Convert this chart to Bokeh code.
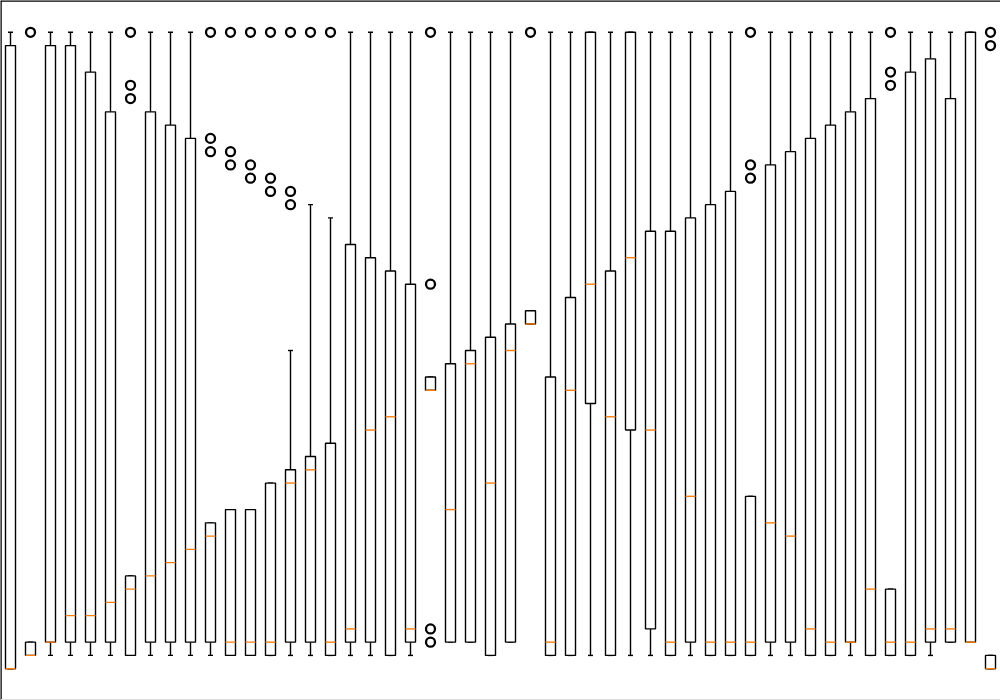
from bokeh.plotting import figure
from bokeh.models import Range1d, ColumnDataSource, Span
from bokeh.embed import file_html
from bokeh.resources import INLINE

# five-number summaries per box (1..50)
q1 =  [0, 1, 2, 2, 2, 2, 1, 2, 2, 2, 2, 1, 1, 1, 2, 2, 1, 2, 2, 1, 2, 21, 2, 2, 1,
       2, 26, 1, 1, 20, 1, 18, 3, 1, 2, 1, 1, 1, 2, 2, 1, 1, 2, 1, 1, 1, 2, 2, 2, 0]
med = [0, 1, 2, 4, 4, 5, 6, 7, 8, 9, 10, 2, 2, 2, 14, 15, 2, 3, 18, 19, 3, 21, 12, 23, 14,
       24, 26, 2, 21, 29, 19, 31, 18, 2, 13, 2, 2, 2, 11, 10, 3, 2, 2, 6, 2, 2, 3, 3, 2, 0]
q3 =  [47, 2, 47, 47, 45, 42, 7, 42, 41, 40, 11, 12, 12, 14, 15, 16, 17, 32, 31, 30, 29, 22, 23, 24, 25,
       26, 27, 22, 28, 48, 30, 48, 33, 33, 34, 35, 36, 13, 38, 39, 40, 41, 42, 43, 6, 45, 46, 43, 48, 1]
lo =  [0, 1, 1, 1, 1, 1, 1, 1, 1, 1, 1, 1, 1, 1, 1, 1, 1, 1, 1, 1, 1, 21, 2, 2, 1,
       2, 26, 1, 1, 1, 1, 1, 1, 1, 1, 1, 1, 1, 1, 1, 1, 1, 1, 1, 1, 1, 1, 2, 2, 0]
hi =  [48, 2, 48, 48, 48, 48, 7, 48, 48, 48, 11, 12, 12, 14, 24, 35, 34, 48, 48, 48, 48, 22, 48, 48, 48,
       48, 27, 48, 48, 48, 48, 48, 48, 48, 48, 48, 48, 13, 48, 48, 48, 48, 48, 48, 6, 48, 48, 48, 48, 1]
fliers = {2: [48], 7: [48, 44, 43], 11: [48, 40, 39], 12: [48, 39, 38], 13: [48, 38, 37],
          14: [48, 37, 36], 15: [48, 36, 35], 16: [48], 17: [48], 22: [48, 29, 3, 2],
          27: [48], 38: [48, 38, 37], 45: [48, 45, 44], 50: [48, 47]}

n = len(q1)
pos = list(range(1, n + 1))
hw = 0.25   # half box width
cw = 0.125  # half cap width
ylo, yhi = -2.4, 50.4

p = figure(width=1000, height=700, output_backend="svg", toolbar_location=None,
           x_range=Range1d(0.5, n + 0.5), y_range=Range1d(ylo, yhi), min_border=0)
p.axis.visible = False
p.grid.visible = False
p.outline_line_color = None
p.background_fill_color = "white"

# frame edges (top/left visible, bottom faint, as in the reference)
p.add_layout(Span(location=yhi, dimension="width", line_color="black", line_width=2.5))
p.add_layout(Span(location=0.5, dimension="height", line_color="black", line_width=2.5))
p.add_layout(Span(location=ylo, dimension="width", line_color="#dddddd", line_width=3))

# whiskers
wx, wy0, wy1 = [], [], []
for i in range(n):
    if hi[i] > q3[i]:
        wx.append(pos[i]); wy0.append(q3[i]); wy1.append(hi[i])
    if lo[i] < q1[i]:
        wx.append(pos[i]); wy0.append(q1[i]); wy1.append(lo[i])
p.segment(x0=wx, y0=wy0, x1=wx, y1=wy1, line_color="black", line_width=1.4)

# caps
cx0 = [x - cw for x in pos] * 2
cx1 = [x + cw for x in pos] * 2
cy = hi + lo
p.segment(x0=cx0, y0=cy, x1=cx1, y1=cy, line_color="black", line_width=1.4)

# boxes
src = ColumnDataSource(dict(left=[x - hw for x in pos], right=[x + hw for x in pos],
                            bottom=q1, top=q3))
p.quad(left="left", right="right", bottom="bottom", top="top", source=src,
       fill_color="white", line_color="black", line_width=1.4)

# medians
p.segment(x0=[x - hw for x in pos], y0=med, x1=[x + hw for x in pos], y1=med,
          line_color="#ff7f0e", line_width=1.4)

# outliers
fx, fy = [], []
for k, vals in fliers.items():
    for v in vals:
        fx.append(k); fy.append(v)
p.scatter(fx, fy, marker="circle", size=9, fill_color=None, line_color="black",
          line_width=2.3)

open("out.html", "w").write(file_html(p, INLINE))
